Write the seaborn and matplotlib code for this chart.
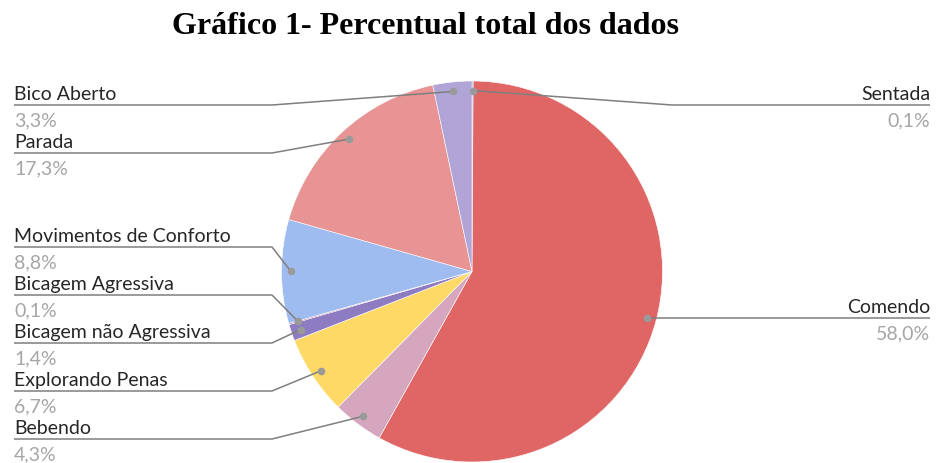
import numpy as np
import matplotlib
matplotlib.use("Agg")
import matplotlib.pyplot as plt
import seaborn as sns

# ---- data ----
categories = ["Sentada", "Comendo", "Bebendo", "Explorando Penas",
              "Bicagem não Agressiva", "Bicagem Agressiva",
              "Movimentos de Conforto", "Parada", "Bico Aberto"]
percentages = [0.1, 58.0, 4.3, 6.7, 1.4, 0.1, 8.8, 17.3, 3.3]
colors = ["#6d9eeb", "#e06666", "#d5a6bd", "#ffd966", "#8e7cc3",
          "#a64d79", "#9fbcf0", "#e89494", "#b1a5d7"]
title = "Gráfico 1- Percentual total dos dados"

# ---- layout (pixel rows of the leader lines) ----
label_side = {"Sentada": "right", "Comendo": "right"}
label_line_y = {"Bico Aberto": 106, "Parada": 154, "Movimentos de Conforto": 248,
                "Bicagem Agressiva": 296, "Bicagem não Agressiva": 344,
                "Explorando Penas": 392, "Bebendo": 440,
                "Sentada": 106, "Comendo": 319}

sns.set_theme(style="white")
plt.rcParams["font.family"] = ["Lato", "DejaVu Sans"]

W, H = 937, 464
fig = plt.figure(figsize=(W / 100, H / 100), dpi=100)
ax = fig.add_axes([0, 0, 1, 1])

cx, cy, R = 472, H - 272.5, 190.5
wedges, _ = ax.pie(percentages, colors=colors, startangle=90, counterclock=False,
                   center=(cx, cy), radius=R,
                   wedgeprops=dict(edgecolor="white", linewidth=0.4))
ax.set_xlim(0, W)
ax.set_ylim(0, H)
ax.set_aspect("equal")
ax.axis("off")

line_color = "#7f7f7f"
dot_color = "#9a9a9a"
fs = 14
for w, name, val in zip(wedges, categories, percentages):
    mid = np.deg2rad((w.theta1 + w.theta2) / 2)
    dx = cx + 0.95 * R * np.cos(mid)
    dy = cy + 0.95 * R * np.sin(mid)
    ly = H - label_line_y[name]
    pct = f"{val:.1f}".replace(".", ",") + "%"
    if label_side.get(name) == "right":
        x_in, x_out, ha = 672, 930, "right"
        if abs(ly - dy) < 1:
            x_in = dx
    else:
        x_in, x_out, ha = 272, 14, "left"
    ax.plot([dx, x_in, x_out], [dy, ly, ly], color=line_color, lw=1.1,
            solid_capstyle="butt", zorder=3)
    ax.plot([dx], [dy], "o", color=dot_color, ms=5.5, mec="none", zorder=4)
    ax.text(x_out, ly + 6, name, ha=ha, va="baseline", fontsize=fs, color="#262626")
    ax.text(x_out, ly - 20, pct, ha=ha, va="baseline", fontsize=fs, color="#a6a6a6")

fig.text(426 / W, 1 - 27 / H, title, ha="center", va="center",
         fontsize=23, fontweight="bold", family="Liberation Serif", color="black")

fig.savefig("out.png", dpi=100)
